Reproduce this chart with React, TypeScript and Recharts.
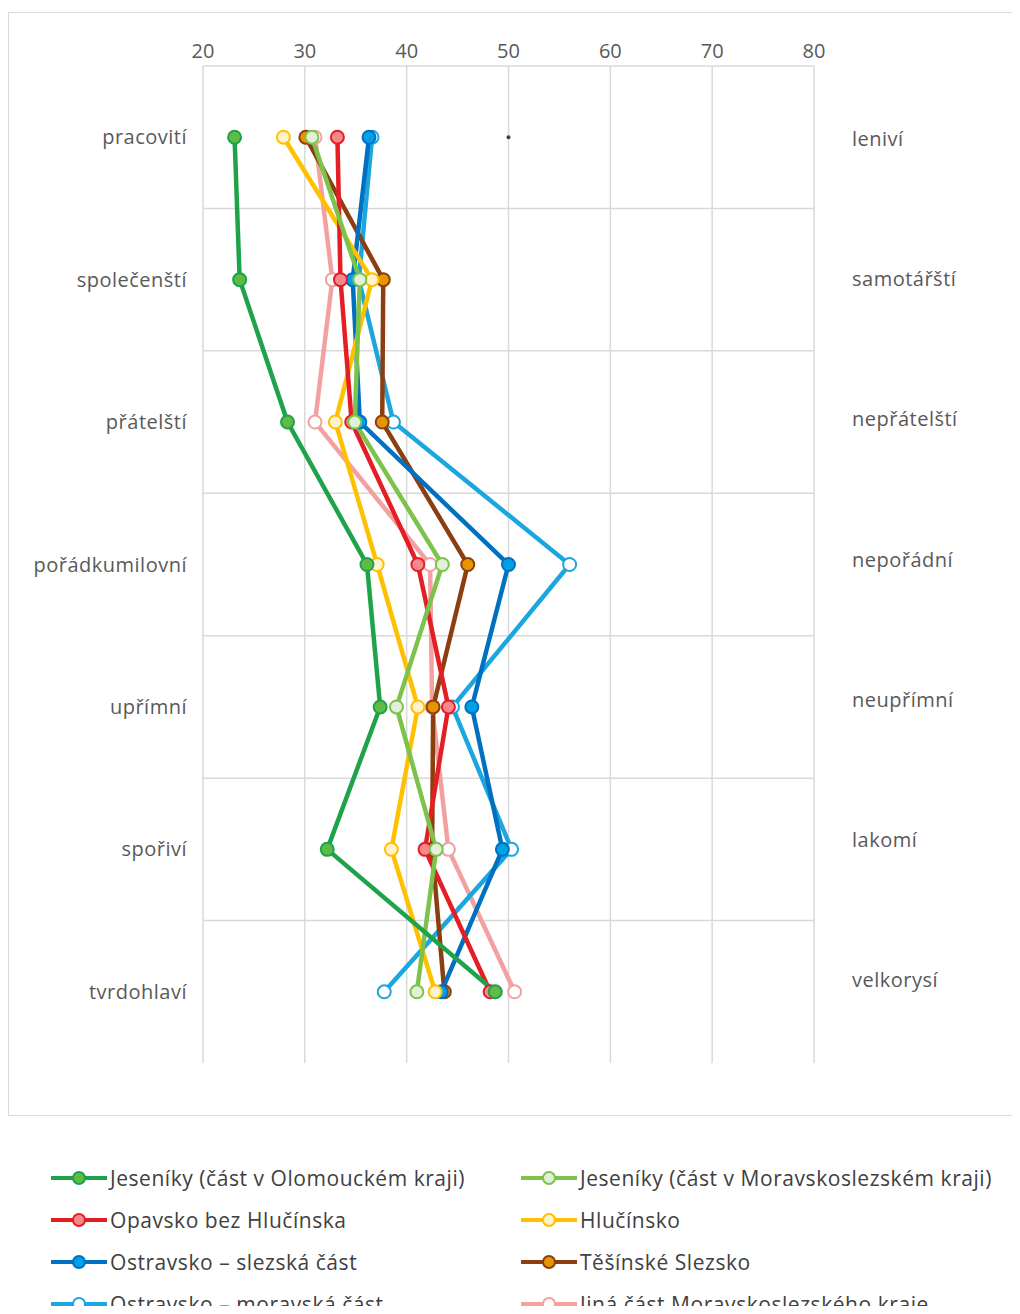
import React from 'react';
import { LineChart, Line, XAxis, YAxis, CartesianGrid, ReferenceLine, ReferenceDot, Legend } from 'recharts';

const leftLabels = ['pracovití', 'společenští', 'přátelští', 'pořádkumilovní', 'upřímní', 'spořiví', 'tvrdohlaví'];
const rightLabels = ['leniví', 'samotářští', 'nepřátelští', 'nepořádní', 'neupřímní', 'lakomí', 'velkorysí'];
const xTicks = [20, 30, 40, 50, 60, 70, 80];
const rowIndex = [0, 1, 2, 3, 4, 5, 6];
const bandEdges = [0.5, 1.5, 2.5, 3.5, 4.5, 5.5];

const jesenikyOlomouc = [23.1, 23.6, 28.3, 36.1, 37.4, 32.2, 48.7];
const jesenikyMS = [30.7, 35.4, 34.9, 43.5, 39.0, 42.9, 41.0];
const opavsko = [33.2, 33.5, 34.6, 41.1, 44.1, 41.8, 48.2];
const hlucinsko = [27.9, 36.6, 33.0, 37.1, 41.1, 38.5, 42.8];
const ostravskoSlez = [36.3, 34.7, 35.4, 50.0, 46.4, 49.4, 43.4];
const tesinsko = [30.1, 37.7, 37.6, 46.0, 42.6, 42.5, 43.7];
const ostravskoMor = [36.6, 35.3, 38.7, 56.0, 44.5, 50.3, 37.8];
const jinaCast = [31.0, 32.7, 31.0, 42.3, 42.5, 44.1, 50.6];

const seriesNames = [
  'Jeseníky (část v Olomouckém kraji)',
  'Jeseníky (část v Moravskoslezském kraji)',
  'Opavsko bez Hlučínska',
  'Hlučínsko',
  'Ostravsko – slezská část',
  'Těšínské Slezsko',
  'Ostravsko – moravská část',
  'Jiná část Moravskoslezského kraje',
];
const lineColors = ['#1fa34a', '#7dc24b', '#e31e24', '#ffc000', '#0070c0', '#8b3e10', '#1ba6df', '#f4a0a0'];
const markerFills = ['#5dbb46', '#e2f0d9', '#f4888c', '#fff2cc', '#00a0e8', '#e69500', '#ffffff', '#ffffff'];
const valueLists = [jesenikyOlomouc, jesenikyMS, opavsko, hlucinsko, ostravskoSlez, tesinsko, ostravskoMor, jinaCast];

const data = rowIndex.map((i) => {
  const row: Record<string, number> = { idx: i };
  valueLists.forEach((arr, k) => {
    row['s' + k] = arr[i];
  });
  return row;
});

const FONT = '"Open Sans", sans-serif';
const axisTick = { fill: '#595959', fontSize: 20, letterSpacing: 0.5 };

function LegendContent() {
  return (
    <div
      style={{
        display: 'grid',
        gridTemplateColumns: '470px 500px',
        paddingLeft: 42,
        fontFamily: FONT,
      }}
    >
      {seriesNames.map((name, k) => (
        <div key={name} style={{ display: 'flex', alignItems: 'center', height: 42 }}>
          <svg width={58} height={18} style={{ flex: 'none' }}>
            <line x1={1} y1={9} x2={57} y2={9} stroke={lineColors[k]} strokeWidth={4} />
            <circle cx={29} cy={9} r={6} fill={markerFills[k]} stroke={lineColors[k]} strokeWidth={2} />
          </svg>
          <span style={{ marginLeft: 2, fontSize: 21, letterSpacing: 0.55, color: '#404040', whiteSpace: 'nowrap' }}>
            {name}
          </span>
        </div>
      ))}
    </div>
  );
}

const drawOrder = [7, 6, 5, 4, 3, 2, 1, 0];

export default function App() {
  return (
    <div style={{ position: 'relative', width: 1012, height: 1306, overflow: 'hidden', marginBottom: -8 }}>
      <div
        style={{
          position: 'absolute',
          left: 0,
          top: 4,
          width: 1020,
          height: 1104,
          border: '1px solid #d9d9d9',
          boxSizing: 'border-box',
        }}
      />
      <LineChart
        width={1012}
        height={1306}
        layout="vertical"
        data={data}
        margin={{ top: 18, right: 0, bottom: 251, left: 0 }}
        style={{ fontFamily: FONT }}
      >
        <CartesianGrid vertical horizontal={false} stroke="#d9d9d9" strokeWidth={1.5} />
        <XAxis
          type="number"
          orientation="top"
          domain={[20, 80]}
          ticks={xTicks}
          height={40}
          tickLine={false}
          tickSize={0}
          tickMargin={8}
          axisLine={{ stroke: '#d9d9d9', strokeWidth: 1.5 }}
          tick={{ fill: '#595959', fontSize: 20 }}
          allowDataOverflow
        />
        <YAxis
          type="number"
          dataKey="idx"
          domain={[-0.5, 6.5]}
          ticks={rowIndex}
          tickFormatter={(v: number) => leftLabels[v]}
          width={195}
          tickLine={false}
          axisLine={false}
          tickSize={0}
          tickMargin={16}
          tick={axisTick}
          allowDataOverflow
          interval={0}
        />
        <YAxis
          yAxisId="right"
          orientation="right"
          type="number"
          dataKey="idx"
          domain={[-0.521, 6.592]}
          ticks={rowIndex}
          tickFormatter={(v: number) => rightLabels[v]}
          width={206}
          tickLine={false}
          axisLine={false}
          tickSize={0}
          tickMargin={38}
          tick={axisTick}
          allowDataOverflow
          interval={0}
        />
        {bandEdges.map((e) => (
          <ReferenceLine key={e} y={e} stroke="#d9d9d9" strokeWidth={1.5} />
        ))}
        <ReferenceDot x={50} y={0} r={2} fill="#404040" stroke="none" />
        {drawOrder.map((k) => (
          <Line
            key={k}
            dataKey={'s' + k}
            name={seriesNames[k]}
            stroke={lineColors[k]}
            strokeWidth={4.5}
            dot={{ r: 6.5, fill: markerFills[k], stroke: lineColors[k], strokeWidth: 2 }}
            activeDot={false}
            isAnimationActive={false}
          />
        ))}
        <Legend
          layout="horizontal"
          verticalAlign="middle"
          align="center"
          content={() => <LegendContent />}
          wrapperStyle={{ top: 1149, left: 0, width: 1012 }}
        />
      </LineChart>
    </div>
  );
}
